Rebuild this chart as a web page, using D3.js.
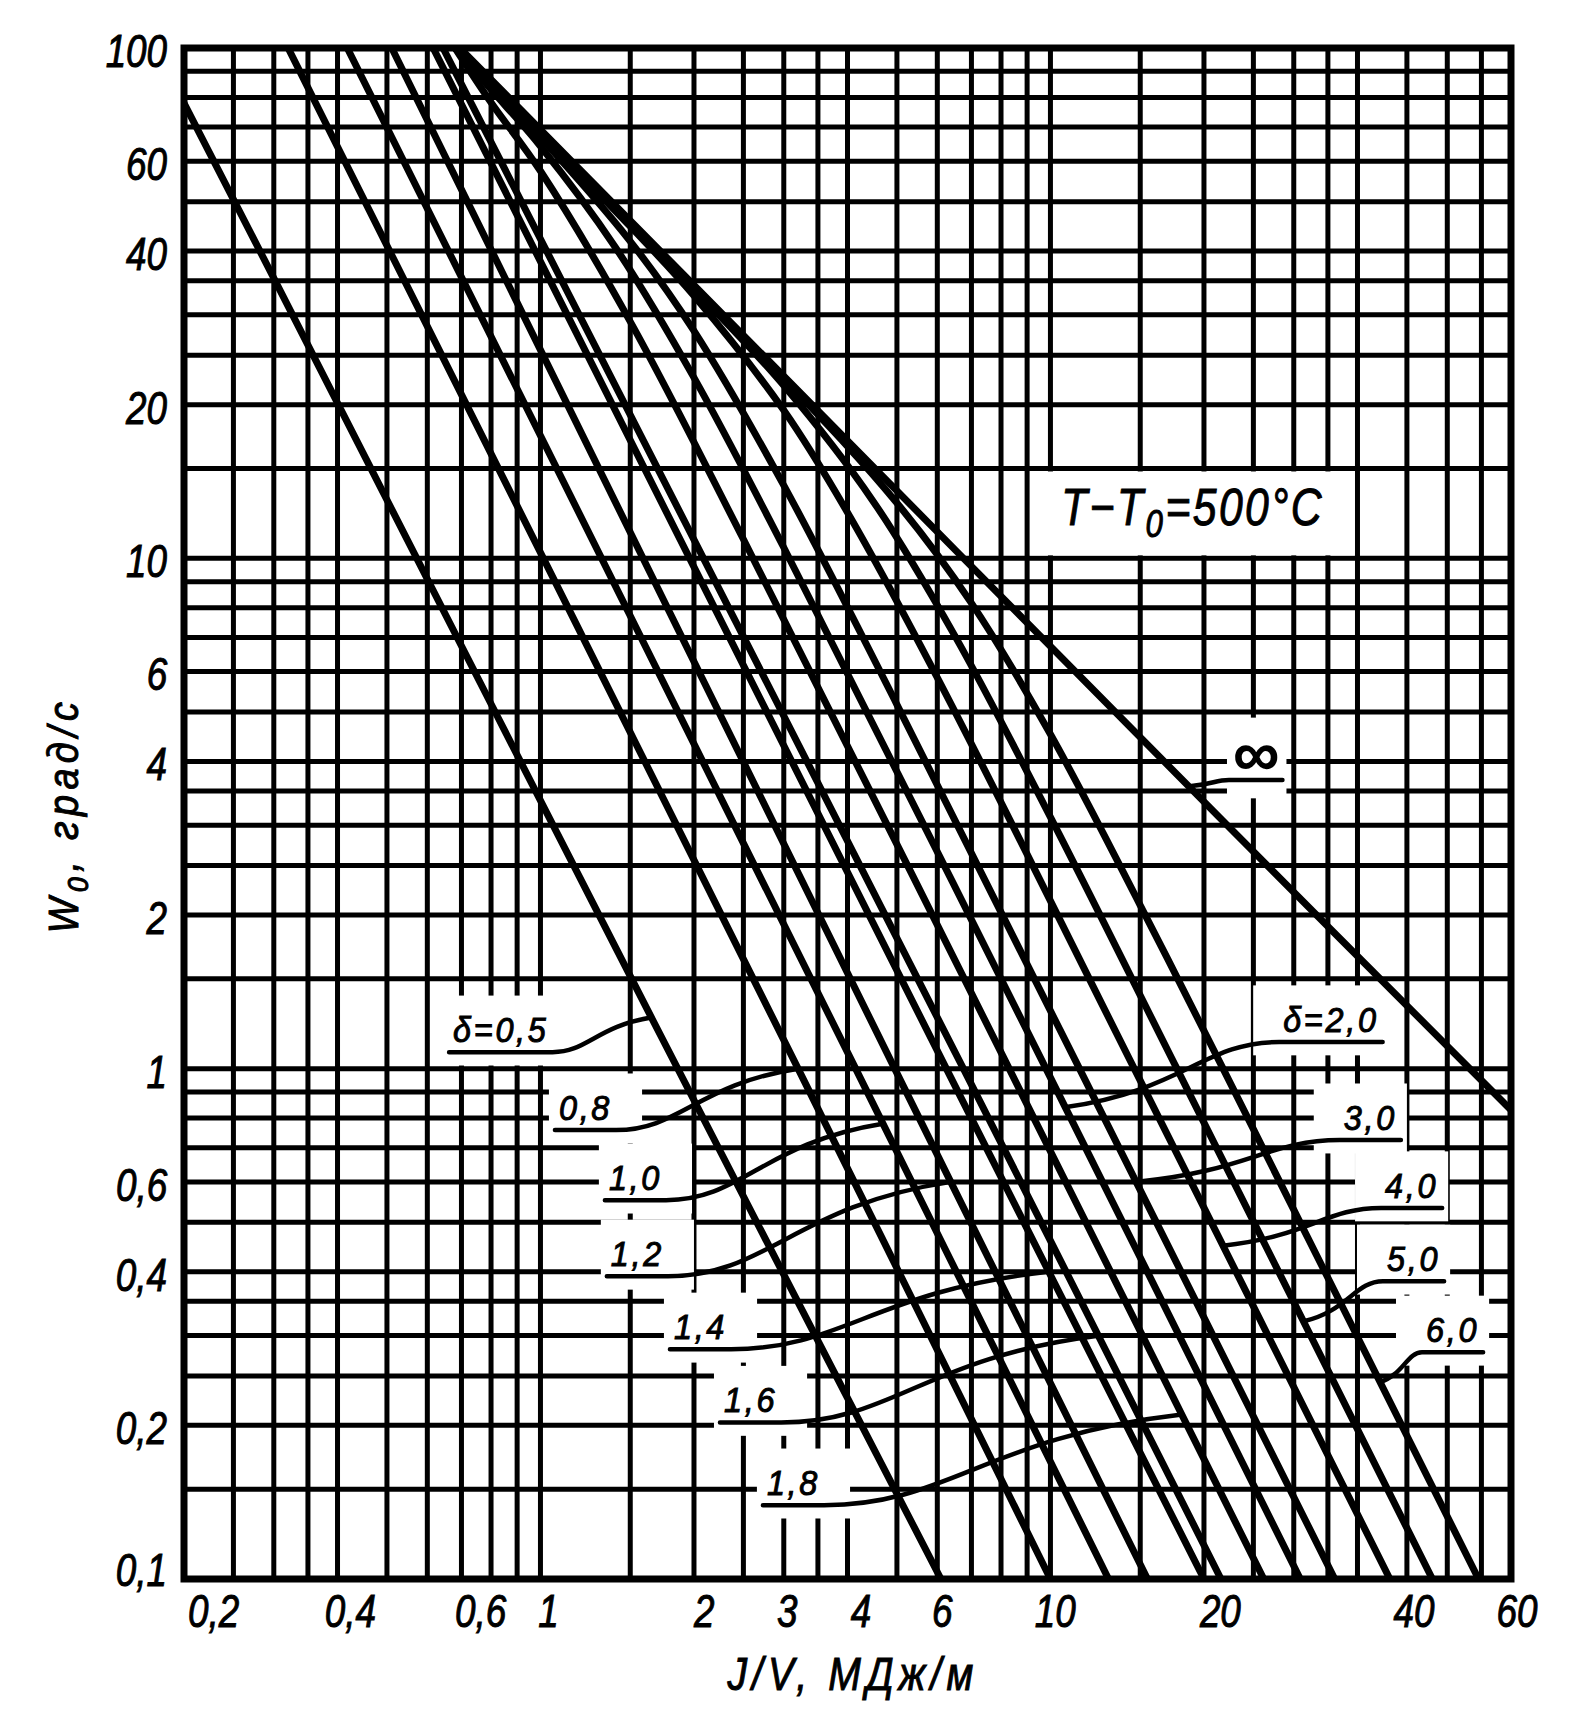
<!DOCTYPE html>
<html><head><meta charset="utf-8">
<script src="https://cdn.jsdelivr.net/npm/d3@7"></script>
<style>
body{margin:0;background:#fff}
text{font-family:"Liberation Sans",Arial,sans-serif;font-style:italic;fill:#000;stroke:#000;stroke-width:1}
</style></head>
<body><svg id="c" width="1569" height="1713"></svg>
<script>
// ---- data ----
const xGrid = [0.25,0.3,0.35,0.4,0.5,0.6,0.7,0.8,0.9,1,1.5,2,2.5,3,3.5,4,5,6,7,8,9,10,15,20,25,30,35,40,50,60,70];
const yGrid = [90,80,70,60,50,40,35,30,25,20,15,10,9,8,7,6,5,4,3.5,3,2.5,2,1.5,1,0.9,0.8,0.7,0.6,0.5,0.4,0.35,0.3,0.25,0.2,0.15];
const yTickVals = [100,60,40,20,10,6,4,2,1,0.6,0.4,0.2,0.1];
const yTickText = ["100","60","40","20","10","6","4","2","1","0,6","0,4","0,2","0,1"];
const xTickPos  = [0.228,0.423,0.761,1.034,2.09,3.04,4.24,6.12,10.2,21.5,51.5,82];
const xTickText = ["0,2","0,4","0,6","1","2","3","4","6","10","20","40","60"];

// curves: [J/V, W0]
const dInf = [[0.695,100],[4,17],[21.7,3.07],[80,0.83]];
const d05 = [[0.2,78],[0.3,35.4],[1.65,1.26],[6.1,0.1]];
const d08 = [[0.32,100],[3.2,1.0],[10.0,0.1]];
const d10 = [[0.418,100],[4.15,1.0],[13.0,0.1]];
const d12 = [[0.511,100],[4.95,1.0],[15.5,0.1]];
const d14 = [[0.616,100],[6.25,1.0],[20.0,0.1]];
const d16 = [[0.644,100],[6.75,1.0],[21.6,0.1]];
const d18 = [[0.68,100],[0.8,78.2],[1.0,57.4],[1.5,29.1],[2.5,10.9],[8.3,1],[26.2,0.1]];
const d20 = [[0.68,100],[0.8,82.9],[1.0,64.2],[1.4,40.8],[2.0,22.6],[3.0,10.5],[9.8,1],[30.9,0.1]];
const d30 = [[0.68,100],[1.0,66.8],[1.5,41.8],[2.0,27.9],[3.0,13.9],[5.0,5.17],[11.4,1],[36.1,0.1]];
const d40 = [[0.68,100],[1.5,44.7],[2.0,32.7],[3.0,19.5],[4.0,12.3],[6.0,5.84],[14.6,1],[46.3,0.1]];
const d50 = [[0.68,100],[2.0,33.7],[3.0,21.8],[4.5,12.9],[6.5,7.04],[10,3.11],[17.7,1],[56.1,0.1]];
const d60 = [[0.68,100],[3.0,22.5],[5.0,12.84],[7.0,8.17],[10,4.52],[15,2.09],[21.8,1],[69.1,0.1]];
const seriesList = [d05,d08,d10,d12,d14,d16,d18,d20,d30,d40,d50,d60,dInf];

// curve labels
const labelText = ["δ=0,5","0,8","1,0","1,2","1,4","1,6","1,8","δ=2,0","3,0","4,0","5,0","6,0","∞"];
const labelPos  = [[0.674,1.127],[1.087,0.793],[1.362,0.578],[1.374,0.41],[1.827,0.295],[2.29,0.212],[2.78,0.146],
                   [28.6,1.18],[37.6,0.758],[45.3,0.558],[45.7,0.401],[54.5,0.291],[22.8,3.78]];
const labelTip  = [[1.65,1.26],[3.2,1.0],[4.69,0.78],[6.38,0.6],[9.9,0.4],[12.5,0.3],[18.1,0.21],
                   [10.67,0.84],[14.7,0.6],[21.8,0.45],[31.4,0.32],[44.3,0.243],[18.9,3.58]];
const labelSide = ["r","r","r","r","r","r","r","l","l","l","l","l","l"];

const noteText = ["T−T","0","=500°C"];
const noteBox = [[9,15],[40,10]];
const noteAt = [10.5,11.6];

// ---- drawing ----
const svg = d3.select("#c");
svg.append("rect").attr("width",1569).attr("height",1713).attr("fill","#fff");
const x = d3.scaleLog().domain([0.2,80]).range([184,1511]);
const y = d3.scaleLog().domain([0.1,100]).range([1579,48]);

function squeeze(sel, sx, origin){
  sel.style("transform-box","fill-box").style("transform-origin",origin).style("transform",`scaleX(${sx})`);
}

const grid = svg.append("g").attr("stroke","#000").attr("stroke-width",5);
grid.selectAll("line.v").data(xGrid).join("line").attr("class","v")
  .attr("x1",d=>x(d)).attr("x2",d=>x(d)).attr("y1",y(100)).attr("y2",y(0.1));
grid.selectAll("line.h").data(yGrid).join("line").attr("class","h")
  .attr("y1",d=>y(d)).attr("y2",d=>y(d)).attr("x1",x(0.2)).attr("x2",x(80));

// note knockout
svg.append("rect")
  .attr("x",x(noteBox[0][0])+3).attr("y",y(noteBox[0][1])+3)
  .attr("width",x(noteBox[1][0])-x(noteBox[0][0])-6)
  .attr("height",y(noteBox[1][1])-y(noteBox[0][1])-6).attr("fill","#fff");

const koG = svg.append("g");
const curveG = svg.append("g");
const leadG = svg.append("g");
const txtG = svg.append("g");

svg.append("clipPath").attr("id","pc").append("rect")
  .attr("x",x(0.2)).attr("y",y(100)).attr("width",x(80)-x(0.2)).attr("height",y(0.1)-y(100));

const line = d3.line().x(d=>x(d[0])).y(d=>y(d[1])).curve(d3.curveCatmullRom.alpha(0.5));
curveG.attr("clip-path","url(#pc)").selectAll("path").data(seriesList).join("path")
  .attr("d",line).attr("fill","none").attr("stroke","#000").attr("stroke-width",7)
  .attr("stroke-linecap","round");

labelText.forEach((t,i)=>{
  const px = x(labelPos[i][0]), py = y(labelPos[i][1]);
  const isInf = t==="∞";
  const sx = isInf?1.1:0.9;
  const tx = txtG.append("text").attr("x",px).attr("y",py)
    .attr("font-size",isInf?58:36).attr("letter-spacing",isInf?0:3).text(t);
  if(isInf) tx.attr("font-style","normal").style("stroke-width",2);
  squeeze(tx, sx, "left center");
  const bb = tx.node().getBBox();
  const w = bb.width*sx;
  const side = labelSide[i];
  const padL = isInf?6:(side==="r"?10:30), padR = isInf?8:(side==="r"?30:10);
  const padT = isInf?4:14, padH = isInf?16:30;
  koG.append("rect").attr("x",bb.x-padL).attr("y",bb.y-padT).attr("width",w+padL+padR).attr("height",bb.height+padH).attr("fill","#fff");
  const uy = py + (isInf?6:10);
  const u0 = bb.x-4, u1 = bb.x+w+4;
  const tipx = x(labelTip[i][0]), tipy = y(labelTip[i][1]);
  let p;
  if(side==="r"){
    const dx = tipx-u1;
    p = `M${u0},${uy}L${u1},${uy}C${u1+dx*0.35},${uy} ${u1+dx*0.45},${tipy+(uy-tipy)*0.25} ${tipx},${tipy}`;
  } else {
    const dx = tipx-u0;
    p = `M${u1},${uy}L${u0},${uy}C${u0+dx*0.35},${uy} ${u0+dx*0.45},${tipy+(uy-tipy)*0.25} ${tipx},${tipy}`;
  }
  leadG.append("path").attr("d",p).attr("fill","none").attr("stroke","#000").attr("stroke-width",4.5).attr("stroke-linecap","round");
});

// note text
const nt = txtG.append("text").attr("x",x(noteAt[0])).attr("y",y(noteAt[1])).attr("font-size",52).attr("letter-spacing",3);
nt.append("tspan").text(noteText[0]);
nt.append("tspan").attr("font-size",38).attr("dy",12).text(noteText[1]);
nt.append("tspan").attr("dy",-12).text(noteText[2]);
squeeze(nt, 0.82, "left center");

// border
svg.append("rect").attr("x",x(0.2)).attr("y",y(100)).attr("width",x(80)-x(0.2)).attr("height",y(0.1)-y(100))
  .attr("fill","none").attr("stroke","#000").attr("stroke-width",7);

// axes
const yAx = svg.append("g").attr("transform",`translate(${x(0.2)-14},0)`)
  .call(d3.axisLeft(y).tickValues(yTickVals).tickFormat((d,i)=>yTickText[i]).tickSize(0));
yAx.select(".domain").remove();
yAx.selectAll("text").attr("font-size",46).attr("font-family",null).attr("dy",(d)=>d===0.1?"0.15em":"0.4em");
squeeze(yAx.selectAll("text"), 0.8, "right center");

const xAx = svg.append("g").attr("transform",`translate(0,${y(0.1)+10})`)
  .call(d3.axisBottom(x).tickValues(xTickPos).tickFormat((d,i)=>xTickText[i]).tickSize(0));
xAx.select(".domain").remove();
xAx.selectAll("text").attr("font-size",46).attr("font-family",null).attr("dy","0.75em");
squeeze(xAx.selectAll("text"), 0.8, "center");

// axis titles
const xt = svg.append("text").attr("x",853).attr("y",1690).attr("text-anchor","middle").attr("font-size",46)
  .attr("letter-spacing",6).text("J/V, МДж/м");
squeeze(xt, 0.85, "center");
const ytg = svg.append("g").attr("transform","translate(78,815) rotate(-90)");
const yt = ytg.append("text").attr("text-anchor","middle").attr("font-size",42).attr("letter-spacing",6);
yt.append("tspan").text("W");
yt.append("tspan").attr("font-size",30).attr("dy",10).text("0");
yt.append("tspan").attr("dy",-10).text(", град/с");
squeeze(yt, 0.9, "center");
</script></body></html>
